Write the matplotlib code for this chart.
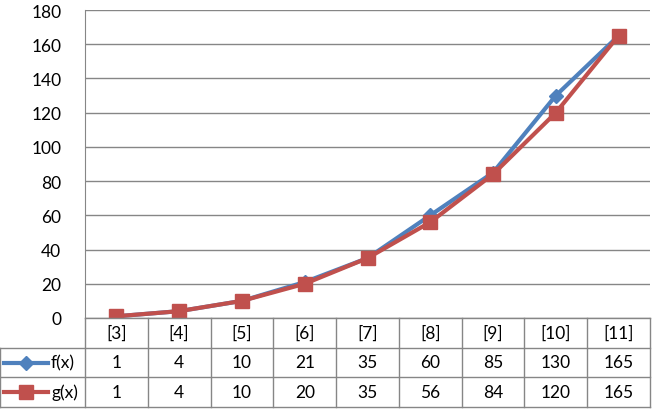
import numpy as np
import matplotlib.pyplot as plt
from matplotlib.lines import Line2D

categories = ['[3]', '[4]', '[5]', '[6]', '[7]', '[8]', '[9]', '[10]', '[11]']
f_vals = [1, 4, 10, 21, 35, 60, 85, 130, 165]
g_vals = [1, 4, 10, 20, 35, 56, 84, 120, 165]
series_names = ['f(x)', 'g(x)']
yticks = np.arange(0, 181, 20)

blue = '#4F81BD'
red = '#C0504D'
grid_c = '#868686'

plt.rcParams['font.family'] = ['Lato', 'DejaVu Sans']

W, H = 655, 414
fig = plt.figure(figsize=(W / 100, H / 100), dpi=100)

# plot area in pixels
left, right, top, bottom = 85, 650, 11, 319
ax = fig.add_axes([left / W, 1 - bottom / H, (right - left) / W, (bottom - top) / H])

x = np.arange(len(categories))
ax.plot(x, f_vals, color=blue, lw=3, marker='D', ms=7.5, mec=blue, mfc=blue, zorder=3)
ax.plot(x, g_vals, color=red, lw=3, marker='s', ms=9.5, mec=red, mfc=red, zorder=4)

ax.set_xlim(-0.5, len(categories) - 0.5)
ax.set_ylim(0, 180)
ax.set_yticks(yticks)
ax.yaxis.grid(True, color=grid_c, lw=1)
ax.set_axisbelow(True)
ax.set_xticks([])
ax.tick_params(axis='y', length=0, pad=17, labelsize=12.5)
for s in ['top', 'right', 'bottom']:
    ax.spines[s].set_visible(False)
ax.spines['left'].set_color(grid_c)

# data table below
tb_bottom = 408
tax = fig.add_axes([0, 1 - tb_bottom / H, right / W, (tb_bottom - bottom) / H])
colw = (right - left) / len(categories)
xl = -0.5 - left / colw
tax.set_xlim(xl, len(categories) - 0.5)
tax.set_ylim(3, 0)
tax.axis('off')

lk = dict(color=grid_c, lw=1, clip_on=False)
tax.plot([-0.5, len(categories) - 0.5], [0, 0], **lk)
for r in [1, 2, 3]:
    tax.plot([xl, len(categories) - 0.5], [r, r], **lk)
tax.plot([xl, xl], [1, 3], **lk)
for k in range(len(categories) + 1):
    tax.plot([k - 0.5, k - 0.5], [0, 3], **lk)

for i, c in enumerate(categories):
    tax.text(i, 0.5, c, ha='center', va='center', fontsize=12.5)
    tax.text(i, 1.5, str(f_vals[i]), ha='center', va='center', fontsize=12.5)
    tax.text(i, 2.5, str(g_vals[i]), ha='center', va='center', fontsize=12.5)

# legend keys in row headers
px = 1 / colw
for r, (name, col, mk, ms) in enumerate(zip(series_names, [blue, red], ['D', 's'], [7.5, 9.5])):
    y = r + 1.5
    tax.add_line(Line2D([xl + 4 * px, xl + 48 * px], [y, y], color=col, lw=3))
    tax.plot([xl + 26 * px], [y], marker=mk, ms=ms, color=col)
    tax.text(xl + 51 * px, y, name, ha='left', va='center', fontsize=12.5)

fig.savefig('out.png', dpi=100)
